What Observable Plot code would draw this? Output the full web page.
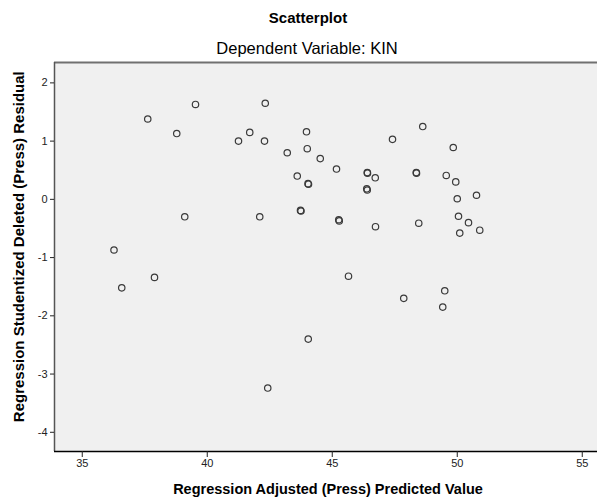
<!DOCTYPE html>
<html><head><meta charset="utf-8">
<script src="https://cdn.jsdelivr.net/npm/d3@7"></script>
<script src="https://cdn.jsdelivr.net/npm/@observablehq/plot@0.6"></script>
<style>
body{margin:0;background:#fff;}
#wrap{width:597px;height:499px;overflow:hidden;}
</style></head><body>
<div id="wrap"></div>
<script>
const titleText = "Scatterplot";
const subtitleText = "Dependent Variable: KIN";
const xLabelText = "Regression Adjusted (Press) Predicted Value";
const yLabelText = "Regression Studentized Deleted (Press) Residual";

const predicted = [39.53, 42.32, 37.62, 38.78, 41.25, 41.70, 42.29, 43.97, 43.20, 44.00,
  44.52, 43.60, 44.03, 44.05, 43.73, 43.75, 39.10, 42.10, 36.27, 48.62,
  47.41, 49.84, 45.17, 46.40, 46.41, 46.72, 48.36, 48.37, 49.56, 49.94,
  46.38, 46.40, 50.77, 50.00, 45.26, 45.28, 46.73, 48.46, 50.05, 50.45,
  50.90, 50.10, 36.58, 37.89, 44.04, 42.42, 45.65, 47.86, 49.50, 49.42];
const residual = [1.63, 1.65, 1.38, 1.13, 1.00, 1.15, 1.00, 1.16, 0.80, 0.87,
  0.70, 0.40, 0.27, 0.26, -0.19, -0.20, -0.30, -0.30, -0.87, 1.25,
  1.03, 0.89, 0.52, 0.46, 0.45, 0.37, 0.46, 0.45, 0.41, 0.30,
  0.18, 0.16, 0.07, 0.01, -0.35, -0.37, -0.47, -0.41, -0.29, -0.40,
  -0.53, -0.58, -1.52, -1.34, -2.40, -3.24, -1.32, -1.70, -1.57, -1.85];

const xTicks = [35, 40, 45, 50, 55];
const yTicks = [2, 1, 0, -1, -2, -3, -4];
const xDomain = [33.89, 55.61];
const yDomain = [-4.33, 2.35];

const points = predicted.map((p, i) => ({x: p, y: residual[i]}));

const chart = Plot.plot({
  width: 597,
  height: 499,
  marginTop: 62,
  marginBottom: 48,
  marginLeft: 54,
  marginRight: 0,
  style: {fontFamily: "'Liberation Sans', Arial, sans-serif", fontSize: "11px", background: "transparent", overflow: "visible"},
  x: {domain: xDomain, label: null},
  y: {domain: yDomain, label: null},
  marks: [
    Plot.frame({fill: "#f0f0f0", stroke: null}),
    Plot.ruleY([yDomain[1]], {stroke: "#707070", strokeWidth: 2}),
    Plot.ruleX([xDomain[0]], {stroke: "#555", strokeWidth: 1.5}),
    Plot.ruleY([yDomain[0]], {stroke: "#000", strokeWidth: 1.5}),
    Plot.axisX({ticks: xTicks, tickSize: 6, tickPadding: 2, color: "#222", label: null, tickFormat: d => String(d)}),
    Plot.axisY({ticks: yTicks, tickSize: 4, tickPadding: 3, color: "#222", label: null, tickFormat: d => String(d)}),
    Plot.dot(points, {x: "x", y: "y", r: 3.2, stroke: "#3a3a3a", strokeWidth: 1.2, fill: "none"})
  ]
});

const svg = d3.select(chart);
const ff = "'Liberation Sans', Arial, sans-serif";
svg.append("text").attr("x", 308).attr("y", 22.7).attr("text-anchor", "middle")
  .attr("font-family", ff).attr("font-size", 15).attr("font-weight", "bold").attr("fill", "#000").text(titleText);
svg.append("text").attr("x", 307).attr("y", 54).attr("text-anchor", "middle")
  .attr("font-family", ff).attr("font-size", 16.5).attr("fill", "#000").text(subtitleText);
svg.append("text").attr("x", 328).attr("y", 494.3).attr("text-anchor", "middle")
  .attr("font-family", ff).attr("font-size", 14.5).attr("font-weight", "bold").attr("fill", "#000").text(xLabelText);
svg.append("text").attr("transform", "translate(24,246.7) rotate(-90)").attr("text-anchor", "middle")
  .attr("font-family", ff).attr("font-size", 15).attr("font-weight", "bold").attr("fill", "#000").text(yLabelText);

document.getElementById("wrap").appendChild(chart);
</script>
</body></html>
